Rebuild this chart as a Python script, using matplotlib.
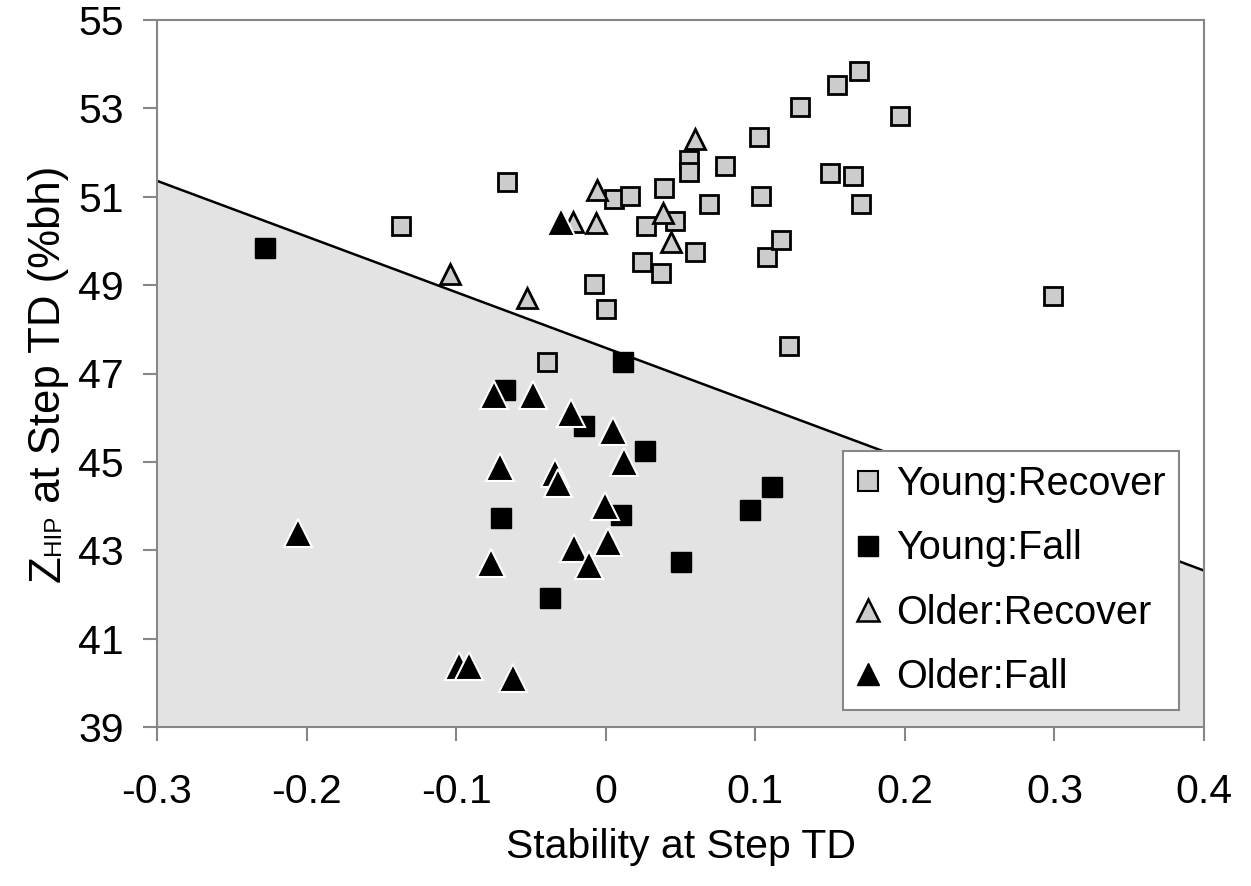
import matplotlib
matplotlib.use("Agg")
import matplotlib.pyplot as plt
from matplotlib.lines import Line2D

plt.rcParams['font.family'] = ['Liberation Sans', 'DejaVu Sans']
plt.rcParams['axes.unicode_minus'] = False

# ---- data ----
young_recover_x = [-0.137, -0.066, -0.039, -0.0075, 0.0002, 0.0055, 0.016, 0.0243, 0.0267, 0.0368,
                   0.0387, 0.046, 0.0557, 0.0557, 0.0594, 0.0688, 0.0798, 0.1025, 0.1038, 0.1078,
                   0.117, 0.1225, 0.130, 0.150, 0.1543, 0.1653, 0.1693, 0.1707, 0.197, 0.2988]
young_recover_y = [50.34, 51.33, 47.26, 49.02, 48.46, 50.95, 51.02, 49.52, 50.34, 49.27,
                   51.20, 50.45, 51.83, 51.56, 49.76, 50.84, 51.70, 52.35, 51.02, 49.64,
                   50.02, 47.62, 53.04, 51.53, 53.54, 51.47, 53.85, 50.84, 52.83, 48.75]

young_fall_x = [-0.228, -0.0673, -0.0145, 0.0116, 0.026, 0.010, -0.070, -0.0373, 0.0503, 0.0967, 0.111]
young_fall_y = [49.84, 46.63, 45.81, 47.27, 45.25, 43.80, 43.74, 41.91, 42.73, 43.91, 44.43]

older_recover_x = [-0.104, -0.0523, -0.022, -0.0062, -0.006, 0.038, 0.0437, 0.060]
older_recover_y = [49.25, 48.71, 50.43, 50.41, 51.15, 50.63, 49.98, 52.30]

older_fall_x = [-0.030, -0.0747, -0.0486, -0.0229, 0.0049, 0.0122, -0.0707, -0.0336, -0.032,
                -0.0007, -0.206, -0.021, 0.0015, -0.0114, -0.0767, -0.098, -0.0914, -0.062]
older_fall_y = [50.43, 46.51, 46.51, 46.10, 45.70, 45.00, 44.89, 44.75, 44.52,
                44.01, 43.39, 43.05, 43.18, 42.67, 42.71, 40.38, 40.38, 40.10]

boundary_x = [-0.3, 0.4]
boundary_y = [51.36, 42.54]

x_ticks = [-0.3, -0.2, -0.1, 0.0, 0.1, 0.2, 0.3, 0.4]
x_tick_labels = ['-0.3', '-0.2', '-0.1', '0', '0.1', '0.2', '0.3', '0.4']
y_ticks = [39, 41, 43, 45, 47, 49, 51, 53, 55]
y_tick_labels = ['39', '41', '43', '45', '47', '49', '51', '53', '55']

series_labels = ['Young:Recover', 'Young:Fall', 'Older:Recover', 'Older:Fall']
ylabel_parts = ['Z', 'HIP', ' at Step TD (%bh)']
xlabel_text = 'Stability at Step TD'

# ---- figure ----
W, H = 1251, 886
fig = plt.figure(figsize=(W / 100, H / 100), dpi=100)
ax = fig.add_axes([157 / W, 1 - 727 / H, (1204 - 157) / W, (727 - 20) / H])

LIGHT = '#cccccc'
SHADE = '#e3e3e3'
SPINE = '#878787'

ax.fill_between(boundary_x, boundary_y, [39, 39], color=SHADE, lw=0, zorder=1)
ax.plot(boundary_x, boundary_y, color='black', lw=1.8, zorder=2)

ax.plot(young_recover_x, young_recover_y, ls='none', marker='s', ms=13.5, mfc=LIGHT,
        mec='black', mew=2, zorder=3)
ax.plot(young_fall_x, young_fall_y, ls='none', marker='s', ms=14, mfc='black',
        mec='black', mew=1, zorder=4)
ax.plot(older_recover_x, older_recover_y, ls='none', marker='^', ms=15, mfc=LIGHT,
        mec='black', mew=2, zorder=5)
ax.plot(older_fall_x, older_fall_y, ls='none', marker='^', ms=20, mfc='black',
        mec='white', mew=1.5, zorder=6)

ax.set_xlim(-0.3, 0.4)
ax.set_ylim(39, 55)
ax.set_xticks(x_ticks)
ax.set_xticklabels(x_tick_labels)
ax.set_yticks(y_ticks)
ax.set_yticklabels(y_tick_labels)

for s in ax.spines.values():
    s.set_color(SPINE)
    s.set_linewidth(1.5)
ax.tick_params(axis='both', direction='out', length=10, width=1.5, color=SPINE,
               labelsize=29.5, labelcolor='black')
ax.tick_params(axis='x', pad=23)
ax.tick_params(axis='y', pad=14)

ax.set_xlabel(xlabel_text, fontsize=29.5, labelpad=12)

# y label built from pieces: "Z" + small "HIP" on the same baseline + rest
fig.canvas.draw()
renderer = fig.canvas.get_renderer()
sizes = [31.5, 17.5, 31.5]
x_base = 60 / W
pieces = []
for txt, fs in zip(ylabel_parts, sizes):
    t = fig.text(x_base, 0, txt, fontsize=fs, rotation=90, rotation_mode='anchor',
                 ha='left', va='baseline')
    pieces.append(t)
lengths = [p.get_window_extent(renderer).height for p in pieces]
total = sum(lengths)
center_px = H - (20 + 727) / 2
y_px = center_px - total / 2
for p, L in zip(pieces, lengths):
    p.set_position((x_base, y_px / H))
    y_px += L

handles = [
    Line2D([], [], ls='none', marker='s', ms=14, mfc=LIGHT, mec='black', mew=1.5),
    Line2D([], [], ls='none', marker='s', ms=14, mfc='black', mec='black', mew=1),
    Line2D([], [], ls='none', marker='^', ms=16, mfc=LIGHT, mec='black', mew=1.8),
    Line2D([], [], ls='none', marker='^', ms=16, mfc='black', mec='black', mew=1),
]
leg = fig.legend(handles, series_labels, loc='upper left',
                 bbox_to_anchor=(843 / W, 1 - 451 / H), bbox_transform=fig.transFigure,
                 fontsize=28.5, frameon=True, fancybox=False, framealpha=1,
                 edgecolor=SPINE, borderpad=0.36, labelspacing=0.66,
                 handlelength=0.55, handletextpad=0.42, borderaxespad=0)
leg.get_frame().set_linewidth(1.5)

fig.savefig('out.png', dpi=100)
